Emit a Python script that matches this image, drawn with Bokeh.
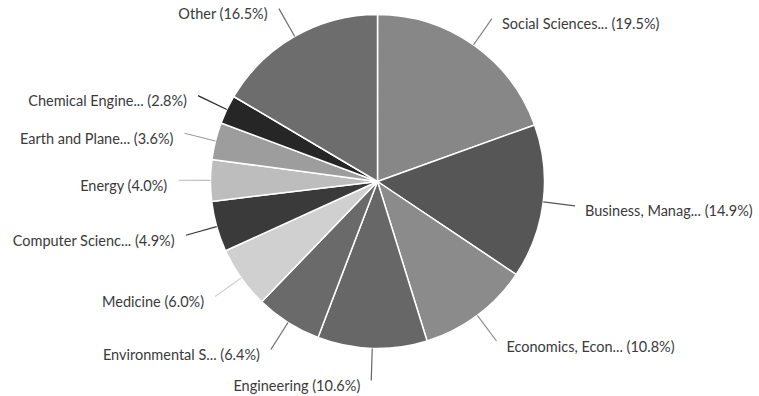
import math

from bokeh.core.properties import value
from bokeh.embed import file_html
from bokeh.models import ColumnDataSource, Range1d
from bokeh.plotting import figure
from bokeh.resources import INLINE

# Share of documents by subject area (percent), clockwise from 12 o'clock
categories = [
    "Social Sciences...",
    "Business, Manag...",
    "Economics, Econ...",
    "Engineering",
    "Environmental S...",
    "Medicine",
    "Computer Scienc...",
    "Energy",
    "Earth and Plane...",
    "Chemical Engine...",
    "Other",
]
shares = [19.5, 14.9, 10.8, 10.6, 6.4, 6.0, 4.9, 4.0, 3.6, 2.8, 16.5]
colors = [
    "#878787", "#565656", "#8b8b8b", "#676767", "#6a6a6a", "#d0d0d0",
    "#3a3a3a", "#bdbdbd", "#9d9d9d", "#262626", "#6d6d6d",
]

W, H = 759, 396
CX, CY = 377, H - 181
R = 167
R_LEAD = 199

total = sum(shares)
starts, ends, mids = [], [], []
acc = 0.0
for s in shares:
    a0 = math.pi / 2 - 2 * math.pi * acc / total
    acc += s
    a1 = math.pi / 2 - 2 * math.pi * acc / total
    starts.append(a0)
    ends.append(a1)
    mids.append((a0 + a1) / 2)

wedges = ColumnDataSource(dict(start=starts, end=ends, color=colors))

lx0, ly0, lx1, ly1, tx, ty, align, labels = [], [], [], [], [], [], [], []
for name, s, m in zip(categories, shares, mids):
    c, sn = math.cos(m), math.sin(m)
    lx0.append(CX + R * c)
    ly0.append(CY + R * sn)
    ex, ey = CX + R_LEAD * c, CY + R_LEAD * sn
    lx1.append(ex)
    ly1.append(ey)
    right = c >= 0
    tx.append(ex + 10 if right else ex - 11)
    ty.append(ey - 5)
    align.append("left" if right else "right")
    labels.append(f"{name} ({s:.1f}%)")

leaders = ColumnDataSource(dict(x0=lx0, y0=ly0, x1=lx1, y1=ly1, color=colors))
texts = ColumnDataSource(dict(x=tx, y=ty, text=labels, align=align))

p = figure(
    width=W, height=H,
    x_range=Range1d(0, W), y_range=Range1d(0, H),
    output_backend="svg", toolbar_location=None,
    min_border=0,
)
p.axis.visible = False
p.grid.visible = False
p.outline_line_color = None
p.background_fill_color = "white"
p.border_fill_color = "white"

p.wedge(
    x=CX, y=CY, radius=R,
    start_angle="start", end_angle="end", direction="clock",
    fill_color="color", line_color="white", line_width=1.5,
    source=wedges,
)
p.segment(x0="x0", y0="y0", x1="x1", y1="y1", line_color="color",
          line_width=1.2, source=leaders)
p.text(
    x="x", y="y", text="text", text_align="align", text_baseline="middle",
    text_font=value("Lato"), text_font_size="14.5px", text_color="#3a3a3a",
    source=texts,
)

open("out.html", "w").write(file_html(p, INLINE))
